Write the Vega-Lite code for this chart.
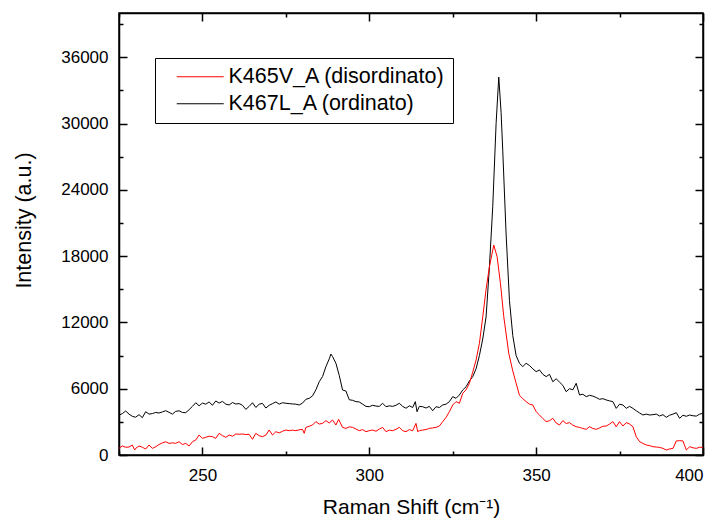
{
  "$schema": "https://vega.github.io/schema/vega-lite/v6.json",
  "width": 584,
  "height": 442,
  "autosize": "none",
  "padding": {"left": 119, "top": 13, "right": 15, "bottom": 65},
  "background": "white",
  "config": {
    "font": "Liberation Sans",
    "view": {"stroke": "black", "strokeWidth": 1.5},
    "axis": {"labelFont": "Liberation Sans", "titleFont": "Liberation Sans", "labelColor": "black", "titleColor": "black", "titleFontWeight": "normal", "domainColor": "black", "domainWidth": 1.5, "tickColor": "black", "tickWidth": 1.5, "grid": false}
  },
  "datasets": {
    "spec": [
      {"s":"K467L_A (ordinato)","x":225,"y":3600},{"s":"K467L_A (ordinato)","x":226,"y":3750},{"s":"K467L_A (ordinato)","x":227,"y":3980},{"s":"K467L_A (ordinato)","x":228,"y":3700},{"s":"K467L_A (ordinato)","x":229,"y":3500},{"s":"K467L_A (ordinato)","x":230,"y":3420},{"s":"K467L_A (ordinato)","x":231,"y":3650},{"s":"K467L_A (ordinato)","x":232,"y":3380},{"s":"K467L_A (ordinato)","x":233,"y":3920},{"s":"K467L_A (ordinato)","x":234,"y":3700},{"s":"K467L_A (ordinato)","x":235,"y":3750},{"s":"K467L_A (ordinato)","x":236,"y":3850},{"s":"K467L_A (ordinato)","x":237,"y":3800},{"s":"K467L_A (ordinato)","x":238,"y":3900},{"s":"K467L_A (ordinato)","x":239,"y":4010},{"s":"K467L_A (ordinato)","x":240,"y":3860},{"s":"K467L_A (ordinato)","x":241,"y":3700},{"s":"K467L_A (ordinato)","x":242,"y":3950},{"s":"K467L_A (ordinato)","x":243,"y":4000},{"s":"K467L_A (ordinato)","x":244,"y":3850},{"s":"K467L_A (ordinato)","x":245,"y":3830},{"s":"K467L_A (ordinato)","x":246,"y":4100},{"s":"K467L_A (ordinato)","x":247,"y":4400},{"s":"K467L_A (ordinato)","x":248,"y":4730},{"s":"K467L_A (ordinato)","x":249,"y":4450},{"s":"K467L_A (ordinato)","x":250,"y":4700},{"s":"K467L_A (ordinato)","x":251,"y":4600},{"s":"K467L_A (ordinato)","x":252,"y":4800},{"s":"K467L_A (ordinato)","x":253,"y":4500},{"s":"K467L_A (ordinato)","x":254,"y":4890},{"s":"K467L_A (ordinato)","x":255,"y":4700},{"s":"K467L_A (ordinato)","x":256,"y":4850},{"s":"K467L_A (ordinato)","x":257,"y":4600},{"s":"K467L_A (ordinato)","x":258,"y":4525},{"s":"K467L_A (ordinato)","x":259,"y":4750},{"s":"K467L_A (ordinato)","x":260,"y":4615},{"s":"K467L_A (ordinato)","x":261,"y":4650},{"s":"K467L_A (ordinato)","x":262,"y":4500},{"s":"K467L_A (ordinato)","x":263,"y":4130},{"s":"K467L_A (ordinato)","x":264,"y":4400},{"s":"K467L_A (ordinato)","x":265,"y":4730},{"s":"K467L_A (ordinato)","x":266,"y":4300},{"s":"K467L_A (ordinato)","x":267,"y":4600},{"s":"K467L_A (ordinato)","x":268,"y":4670},{"s":"K467L_A (ordinato)","x":269,"y":4250},{"s":"K467L_A (ordinato)","x":270,"y":4500},{"s":"K467L_A (ordinato)","x":271,"y":4650},{"s":"K467L_A (ordinato)","x":272,"y":4800},{"s":"K467L_A (ordinato)","x":273,"y":4600},{"s":"K467L_A (ordinato)","x":274,"y":4730},{"s":"K467L_A (ordinato)","x":275,"y":4680},{"s":"K467L_A (ordinato)","x":276,"y":4650},{"s":"K467L_A (ordinato)","x":277,"y":4620},{"s":"K467L_A (ordinato)","x":278,"y":4600},{"s":"K467L_A (ordinato)","x":279,"y":4525},{"s":"K467L_A (ordinato)","x":280,"y":4700},{"s":"K467L_A (ordinato)","x":281,"y":5040},{"s":"K467L_A (ordinato)","x":282,"y":5130},{"s":"K467L_A (ordinato)","x":283,"y":5350},{"s":"K467L_A (ordinato)","x":284,"y":5900},{"s":"K467L_A (ordinato)","x":285,"y":6630},{"s":"K467L_A (ordinato)","x":286,"y":7100},{"s":"K467L_A (ordinato)","x":287,"y":7990},{"s":"K467L_A (ordinato)","x":288,"y":8700},{"s":"K467L_A (ordinato)","x":288.5,"y":9140},{"s":"K467L_A (ordinato)","x":289,"y":8900},{"s":"K467L_A (ordinato)","x":290,"y":8300},{"s":"K467L_A (ordinato)","x":291,"y":7200},{"s":"K467L_A (ordinato)","x":292,"y":5880},{"s":"K467L_A (ordinato)","x":293,"y":5790},{"s":"K467L_A (ordinato)","x":294,"y":5000},{"s":"K467L_A (ordinato)","x":295,"y":4950},{"s":"K467L_A (ordinato)","x":296,"y":4830},{"s":"K467L_A (ordinato)","x":297,"y":4800},{"s":"K467L_A (ordinato)","x":298,"y":4600},{"s":"K467L_A (ordinato)","x":299,"y":4400},{"s":"K467L_A (ordinato)","x":300,"y":4370},{"s":"K467L_A (ordinato)","x":301,"y":4500},{"s":"K467L_A (ordinato)","x":302,"y":4430},{"s":"K467L_A (ordinato)","x":303,"y":4400},{"s":"K467L_A (ordinato)","x":304,"y":4680},{"s":"K467L_A (ordinato)","x":305,"y":4370},{"s":"K467L_A (ordinato)","x":306,"y":4450},{"s":"K467L_A (ordinato)","x":307,"y":4400},{"s":"K467L_A (ordinato)","x":308,"y":4500},{"s":"K467L_A (ordinato)","x":309,"y":4680},{"s":"K467L_A (ordinato)","x":310,"y":4400},{"s":"K467L_A (ordinato)","x":311,"y":4230},{"s":"K467L_A (ordinato)","x":312,"y":4450},{"s":"K467L_A (ordinato)","x":313,"y":4300},{"s":"K467L_A (ordinato)","x":313.8,"y":4830},{"s":"K467L_A (ordinato)","x":314.3,"y":3920},{"s":"K467L_A (ordinato)","x":315,"y":4400},{"s":"K467L_A (ordinato)","x":316,"y":4370},{"s":"K467L_A (ordinato)","x":317,"y":4250},{"s":"K467L_A (ordinato)","x":318,"y":4400},{"s":"K467L_A (ordinato)","x":319,"y":4010},{"s":"K467L_A (ordinato)","x":320,"y":4370},{"s":"K467L_A (ordinato)","x":321,"y":4300},{"s":"K467L_A (ordinato)","x":322,"y":4525},{"s":"K467L_A (ordinato)","x":323,"y":4600},{"s":"K467L_A (ordinato)","x":324,"y":4830},{"s":"K467L_A (ordinato)","x":325,"y":5280},{"s":"K467L_A (ordinato)","x":326,"y":5130},{"s":"K467L_A (ordinato)","x":327,"y":5430},{"s":"K467L_A (ordinato)","x":328,"y":5880},{"s":"K467L_A (ordinato)","x":329,"y":6180},{"s":"K467L_A (ordinato)","x":330,"y":6700},{"s":"K467L_A (ordinato)","x":331,"y":7090},{"s":"K467L_A (ordinato)","x":332,"y":7800},{"s":"K467L_A (ordinato)","x":333,"y":9000},{"s":"K467L_A (ordinato)","x":334,"y":10500},{"s":"K467L_A (ordinato)","x":335,"y":12500},{"s":"K467L_A (ordinato)","x":336,"y":17040},{"s":"K467L_A (ordinato)","x":337,"y":22500},{"s":"K467L_A (ordinato)","x":338,"y":30000},{"s":"K467L_A (ordinato)","x":338.8,"y":34200},{"s":"K467L_A (ordinato)","x":339.5,"y":31000},{"s":"K467L_A (ordinato)","x":340,"y":27500},{"s":"K467L_A (ordinato)","x":341,"y":20000},{"s":"K467L_A (ordinato)","x":342,"y":14000},{"s":"K467L_A (ordinato)","x":343,"y":10800},{"s":"K467L_A (ordinato)","x":344,"y":9000},{"s":"K467L_A (ordinato)","x":345,"y":8300},{"s":"K467L_A (ordinato)","x":346,"y":8000},{"s":"K467L_A (ordinato)","x":347,"y":8300},{"s":"K467L_A (ordinato)","x":348,"y":8100},{"s":"K467L_A (ordinato)","x":349,"y":7800},{"s":"K467L_A (ordinato)","x":350,"y":7540},{"s":"K467L_A (ordinato)","x":351,"y":7700},{"s":"K467L_A (ordinato)","x":352,"y":7300},{"s":"K467L_A (ordinato)","x":353,"y":7090},{"s":"K467L_A (ordinato)","x":354,"y":7300},{"s":"K467L_A (ordinato)","x":355,"y":6630},{"s":"K467L_A (ordinato)","x":356,"y":6900},{"s":"K467L_A (ordinato)","x":357,"y":6600},{"s":"K467L_A (ordinato)","x":358,"y":6300},{"s":"K467L_A (ordinato)","x":359,"y":5730},{"s":"K467L_A (ordinato)","x":360,"y":6000},{"s":"K467L_A (ordinato)","x":361,"y":5900},{"s":"K467L_A (ordinato)","x":362,"y":6490},{"s":"K467L_A (ordinato)","x":363,"y":5430},{"s":"K467L_A (ordinato)","x":364,"y":5500},{"s":"K467L_A (ordinato)","x":365,"y":5280},{"s":"K467L_A (ordinato)","x":366,"y":5400},{"s":"K467L_A (ordinato)","x":367,"y":5330},{"s":"K467L_A (ordinato)","x":368,"y":5200},{"s":"K467L_A (ordinato)","x":369,"y":5040},{"s":"K467L_A (ordinato)","x":370,"y":5100},{"s":"K467L_A (ordinato)","x":371,"y":4980},{"s":"K467L_A (ordinato)","x":372,"y":4900},{"s":"K467L_A (ordinato)","x":373,"y":4830},{"s":"K467L_A (ordinato)","x":374,"y":4220},{"s":"K467L_A (ordinato)","x":375,"y":4600},{"s":"K467L_A (ordinato)","x":376,"y":4530},{"s":"K467L_A (ordinato)","x":377,"y":4220},{"s":"K467L_A (ordinato)","x":378,"y":4400},{"s":"K467L_A (ordinato)","x":379,"y":4220},{"s":"K467L_A (ordinato)","x":380,"y":4000},{"s":"K467L_A (ordinato)","x":381,"y":3800},{"s":"K467L_A (ordinato)","x":382,"y":3620},{"s":"K467L_A (ordinato)","x":383,"y":3700},{"s":"K467L_A (ordinato)","x":384,"y":3620},{"s":"K467L_A (ordinato)","x":385,"y":3650},{"s":"K467L_A (ordinato)","x":386,"y":3700},{"s":"K467L_A (ordinato)","x":387,"y":3530},{"s":"K467L_A (ordinato)","x":388,"y":3650},{"s":"K467L_A (ordinato)","x":389,"y":3410},{"s":"K467L_A (ordinato)","x":390,"y":3600},{"s":"K467L_A (ordinato)","x":391,"y":3700},{"s":"K467L_A (ordinato)","x":392,"y":3830},{"s":"K467L_A (ordinato)","x":393,"y":3320},{"s":"K467L_A (ordinato)","x":394,"y":3600},{"s":"K467L_A (ordinato)","x":395,"y":3500},{"s":"K467L_A (ordinato)","x":396,"y":3620},{"s":"K467L_A (ordinato)","x":397,"y":3550},{"s":"K467L_A (ordinato)","x":398,"y":3520},{"s":"K467L_A (ordinato)","x":399,"y":3700},{"s":"K467L_A (ordinato)","x":400,"y":3770},
      {"s":"K465V_A (disordinato)","x":225,"y":600},{"s":"K465V_A (disordinato)","x":226,"y":815},{"s":"K465V_A (disordinato)","x":227,"y":700},{"s":"K465V_A (disordinato)","x":228,"y":720},{"s":"K465V_A (disordinato)","x":229,"y":900},{"s":"K465V_A (disordinato)","x":229.7,"y":450},{"s":"K465V_A (disordinato)","x":230,"y":600},{"s":"K465V_A (disordinato)","x":231,"y":815},{"s":"K465V_A (disordinato)","x":232,"y":700},{"s":"K465V_A (disordinato)","x":233,"y":540},{"s":"K465V_A (disordinato)","x":234,"y":905},{"s":"K465V_A (disordinato)","x":235,"y":600},{"s":"K465V_A (disordinato)","x":236,"y":750},{"s":"K465V_A (disordinato)","x":237,"y":950},{"s":"K465V_A (disordinato)","x":238,"y":1100},{"s":"K465V_A (disordinato)","x":239,"y":1200},{"s":"K465V_A (disordinato)","x":240,"y":1050},{"s":"K465V_A (disordinato)","x":241,"y":1100},{"s":"K465V_A (disordinato)","x":242,"y":1060},{"s":"K465V_A (disordinato)","x":243,"y":1200},{"s":"K465V_A (disordinato)","x":244,"y":950},{"s":"K465V_A (disordinato)","x":245,"y":1050},{"s":"K465V_A (disordinato)","x":246,"y":815},{"s":"K465V_A (disordinato)","x":247,"y":1200},{"s":"K465V_A (disordinato)","x":248,"y":1360},{"s":"K465V_A (disordinato)","x":249,"y":1810},{"s":"K465V_A (disordinato)","x":250,"y":1510},{"s":"K465V_A (disordinato)","x":251,"y":1600},{"s":"K465V_A (disordinato)","x":252,"y":1700},{"s":"K465V_A (disordinato)","x":253,"y":1660},{"s":"K465V_A (disordinato)","x":254,"y":1500},{"s":"K465V_A (disordinato)","x":255,"y":1960},{"s":"K465V_A (disordinato)","x":256,"y":1750},{"s":"K465V_A (disordinato)","x":257,"y":1600},{"s":"K465V_A (disordinato)","x":258,"y":1810},{"s":"K465V_A (disordinato)","x":259,"y":1700},{"s":"K465V_A (disordinato)","x":260,"y":1900},{"s":"K465V_A (disordinato)","x":261,"y":1880},{"s":"K465V_A (disordinato)","x":262,"y":1900},{"s":"K465V_A (disordinato)","x":263,"y":1850},{"s":"K465V_A (disordinato)","x":264,"y":1870},{"s":"K465V_A (disordinato)","x":265,"y":1420},{"s":"K465V_A (disordinato)","x":266,"y":1960},{"s":"K465V_A (disordinato)","x":267,"y":1750},{"s":"K465V_A (disordinato)","x":268,"y":1660},{"s":"K465V_A (disordinato)","x":269,"y":1800},{"s":"K465V_A (disordinato)","x":270,"y":2260},{"s":"K465V_A (disordinato)","x":271,"y":1810},{"s":"K465V_A (disordinato)","x":272,"y":2110},{"s":"K465V_A (disordinato)","x":273,"y":2000},{"s":"K465V_A (disordinato)","x":274,"y":2150},{"s":"K465V_A (disordinato)","x":275,"y":2260},{"s":"K465V_A (disordinato)","x":276,"y":2200},{"s":"K465V_A (disordinato)","x":277,"y":2250},{"s":"K465V_A (disordinato)","x":278,"y":2200},{"s":"K465V_A (disordinato)","x":279,"y":2280},{"s":"K465V_A (disordinato)","x":280,"y":2320},{"s":"K465V_A (disordinato)","x":280.5,"y":1960},{"s":"K465V_A (disordinato)","x":281,"y":2500},{"s":"K465V_A (disordinato)","x":282,"y":2600},{"s":"K465V_A (disordinato)","x":283,"y":2715},{"s":"K465V_A (disordinato)","x":284,"y":3020},{"s":"K465V_A (disordinato)","x":285,"y":2800},{"s":"K465V_A (disordinato)","x":286,"y":2860},{"s":"K465V_A (disordinato)","x":287,"y":3110},{"s":"K465V_A (disordinato)","x":288,"y":2900},{"s":"K465V_A (disordinato)","x":289,"y":3170},{"s":"K465V_A (disordinato)","x":290,"y":2715},{"s":"K465V_A (disordinato)","x":290.8,"y":3230},{"s":"K465V_A (disordinato)","x":292,"y":2500},{"s":"K465V_A (disordinato)","x":293,"y":2410},{"s":"K465V_A (disordinato)","x":294,"y":2550},{"s":"K465V_A (disordinato)","x":295,"y":2500},{"s":"K465V_A (disordinato)","x":296,"y":2350},{"s":"K465V_A (disordinato)","x":297,"y":2200},{"s":"K465V_A (disordinato)","x":298,"y":2300},{"s":"K465V_A (disordinato)","x":299,"y":2110},{"s":"K465V_A (disordinato)","x":300,"y":2200},{"s":"K465V_A (disordinato)","x":301,"y":2260},{"s":"K465V_A (disordinato)","x":302,"y":2150},{"s":"K465V_A (disordinato)","x":303,"y":2350},{"s":"K465V_A (disordinato)","x":304,"y":2500},{"s":"K465V_A (disordinato)","x":305,"y":2110},{"s":"K465V_A (disordinato)","x":306,"y":2250},{"s":"K465V_A (disordinato)","x":307,"y":2200},{"s":"K465V_A (disordinato)","x":308,"y":2320},{"s":"K465V_A (disordinato)","x":309,"y":2500},{"s":"K465V_A (disordinato)","x":310,"y":2200},{"s":"K465V_A (disordinato)","x":311,"y":2110},{"s":"K465V_A (disordinato)","x":312,"y":2300},{"s":"K465V_A (disordinato)","x":313,"y":2200},{"s":"K465V_A (disordinato)","x":314,"y":2860},{"s":"K465V_A (disordinato)","x":314.5,"y":2110},{"s":"K465V_A (disordinato)","x":315,"y":2200},{"s":"K465V_A (disordinato)","x":316,"y":2260},{"s":"K465V_A (disordinato)","x":317,"y":2300},{"s":"K465V_A (disordinato)","x":318,"y":2410},{"s":"K465V_A (disordinato)","x":319,"y":2450},{"s":"K465V_A (disordinato)","x":320,"y":2500},{"s":"K465V_A (disordinato)","x":321,"y":2620},{"s":"K465V_A (disordinato)","x":322,"y":3020},{"s":"K465V_A (disordinato)","x":323,"y":3400},{"s":"K465V_A (disordinato)","x":324,"y":3920},{"s":"K465V_A (disordinato)","x":325,"y":4525},{"s":"K465V_A (disordinato)","x":326,"y":4830},{"s":"K465V_A (disordinato)","x":327,"y":4680},{"s":"K465V_A (disordinato)","x":328,"y":5580},{"s":"K465V_A (disordinato)","x":329,"y":5900},{"s":"K465V_A (disordinato)","x":330,"y":6490},{"s":"K465V_A (disordinato)","x":331,"y":7500},{"s":"K465V_A (disordinato)","x":332,"y":8600},{"s":"K465V_A (disordinato)","x":333,"y":10110},{"s":"K465V_A (disordinato)","x":334,"y":12500},{"s":"K465V_A (disordinato)","x":335,"y":15000},{"s":"K465V_A (disordinato)","x":336,"y":17040},{"s":"K465V_A (disordinato)","x":337.3,"y":19000},{"s":"K465V_A (disordinato)","x":338.3,"y":17950},{"s":"K465V_A (disordinato)","x":339.3,"y":15540},{"s":"K465V_A (disordinato)","x":340.3,"y":12520},{"s":"K465V_A (disordinato)","x":341.8,"y":9200},{"s":"K465V_A (disordinato)","x":343,"y":7600},{"s":"K465V_A (disordinato)","x":344,"y":6500},{"s":"K465V_A (disordinato)","x":345,"y":5400},{"s":"K465V_A (disordinato)","x":346,"y":5100},{"s":"K465V_A (disordinato)","x":347,"y":4830},{"s":"K465V_A (disordinato)","x":348,"y":4600},{"s":"K465V_A (disordinato)","x":349,"y":4530},{"s":"K465V_A (disordinato)","x":350,"y":3920},{"s":"K465V_A (disordinato)","x":351,"y":3620},{"s":"K465V_A (disordinato)","x":352,"y":3300},{"s":"K465V_A (disordinato)","x":353,"y":3020},{"s":"K465V_A (disordinato)","x":354,"y":3100},{"s":"K465V_A (disordinato)","x":355,"y":3320},{"s":"K465V_A (disordinato)","x":356,"y":2900},{"s":"K465V_A (disordinato)","x":357,"y":2715},{"s":"K465V_A (disordinato)","x":358,"y":3110},{"s":"K465V_A (disordinato)","x":359,"y":2850},{"s":"K465V_A (disordinato)","x":360,"y":2930},{"s":"K465V_A (disordinato)","x":361,"y":2700},{"s":"K465V_A (disordinato)","x":362,"y":2560},{"s":"K465V_A (disordinato)","x":363,"y":2500},{"s":"K465V_A (disordinato)","x":364,"y":2400},{"s":"K465V_A (disordinato)","x":365,"y":2320},{"s":"K465V_A (disordinato)","x":366,"y":2560},{"s":"K465V_A (disordinato)","x":367,"y":2400},{"s":"K465V_A (disordinato)","x":368,"y":2320},{"s":"K465V_A (disordinato)","x":369,"y":2450},{"s":"K465V_A (disordinato)","x":370,"y":2600},{"s":"K465V_A (disordinato)","x":371,"y":2620},{"s":"K465V_A (disordinato)","x":372,"y":2800},{"s":"K465V_A (disordinato)","x":373,"y":3020},{"s":"K465V_A (disordinato)","x":374,"y":2560},{"s":"K465V_A (disordinato)","x":375,"y":3020},{"s":"K465V_A (disordinato)","x":376,"y":2620},{"s":"K465V_A (disordinato)","x":377,"y":2930},{"s":"K465V_A (disordinato)","x":378,"y":2800},{"s":"K465V_A (disordinato)","x":379,"y":2560},{"s":"K465V_A (disordinato)","x":380,"y":1660},{"s":"K465V_A (disordinato)","x":381,"y":1200},{"s":"K465V_A (disordinato)","x":382,"y":1050},{"s":"K465V_A (disordinato)","x":383,"y":905},{"s":"K465V_A (disordinato)","x":384,"y":850},{"s":"K465V_A (disordinato)","x":385,"y":750},{"s":"K465V_A (disordinato)","x":386,"y":720},{"s":"K465V_A (disordinato)","x":387,"y":690},{"s":"K465V_A (disordinato)","x":388,"y":600},{"s":"K465V_A (disordinato)","x":389,"y":450},{"s":"K465V_A (disordinato)","x":390,"y":550},{"s":"K465V_A (disordinato)","x":391,"y":600},{"s":"K465V_A (disordinato)","x":392,"y":1270},{"s":"K465V_A (disordinato)","x":393,"y":1300},{"s":"K465V_A (disordinato)","x":394,"y":1270},{"s":"K465V_A (disordinato)","x":395,"y":450},{"s":"K465V_A (disordinato)","x":396,"y":750},{"s":"K465V_A (disordinato)","x":397,"y":650},{"s":"K465V_A (disordinato)","x":398,"y":600},{"s":"K465V_A (disordinato)","x":399,"y":700},{"s":"K465V_A (disordinato)","x":400,"y":690}
    ]
  },
  "data": {"name": "spec"},
  "layer": [
    {
      "mark": {"type": "line", "strokeWidth": 1, "clip": true},
      "encoding": {
        "x": {"field": "x", "type": "quantitative", "scale": {"domain": [225, 400], "nice": false, "zero": false},
          "axis": {"orient": "bottom", "title": "Raman Shift (cm⁻¹)", "titleFontSize": 21, "titlePadding": 13, "labelFontSize": 17,
            "values": [225, 250, 275, 300, 325, 350, 375, 400],
            "labelExpr": "datum.value % 50 === 0 ? datum.label : ''",
            "tickSize": {"condition": {"test": "datum.value % 50 === 0", "value": -8}, "value": -4},
            "labelPadding": 20}},
        "y": {"field": "y", "type": "quantitative", "scale": {"domain": [0, 40000], "nice": false},
          "axis": {"orient": "left", "title": "Intensity (a.u.)", "titleFontSize": 21.5, "titlePadding": 25, "titleY": 207, "labelFontSize": 17, "format": "d",
            "values": [0, 3000, 6000, 9000, 12000, 15000, 18000, 21000, 24000, 27000, 30000, 33000, 36000, 39000],
            "labelExpr": "datum.value % 6000 === 0 ? datum.label : ''",
            "tickSize": {"condition": {"test": "datum.value % 6000 === 0", "value": -8}, "value": -4},
            "labelPadding": 19}},
        "color": {"field": "s", "type": "nominal",
          "scale": {"domain": ["K465V_A (disordinato)", "K467L_A (ordinato)"], "range": ["#ff0000", "#000000"]},
          "legend": {"orient": "none", "legendX": 36, "legendY": 45, "title": null, "symbolType": "M-4,0L4,0", "symbolSize": 138, "symbolStrokeWidth": 1,
            "labelFontSize": 21.5, "labelFont": "Liberation Sans", "labelColor": "black", "labelOffset": 17.5, "labelLimit": 0, "symbolOffset": 26.5, "padding": 8,
            "strokeColor": "black", "fillColor": "white", "rowPadding": 4}},
        "order": {"field": "x", "type": "quantitative"}
      }
    },
    {
      "mark": {"type": "point", "opacity": 0},
      "encoding": {
        "x": {"field": "x", "type": "quantitative",
          "axis": {"orient": "top", "title": null, "labels": false,
            "values": [225, 250, 275, 300, 325, 350, 375, 400],
            "tickSize": {"condition": {"test": "datum.value % 50 === 0", "value": -8}, "value": -4}}},
        "y": {"field": "y", "type": "quantitative",
          "axis": {"orient": "right", "title": null, "labels": false,
            "values": [0, 3000, 6000, 9000, 12000, 15000, 18000, 21000, 24000, 27000, 30000, 33000, 36000, 39000],
            "tickSize": {"condition": {"test": "datum.value % 6000 === 0", "value": -8}, "value": -4}}}
      }
    }
  ],
  "resolve": {"axis": {"x": "independent", "y": "independent"}}
}
